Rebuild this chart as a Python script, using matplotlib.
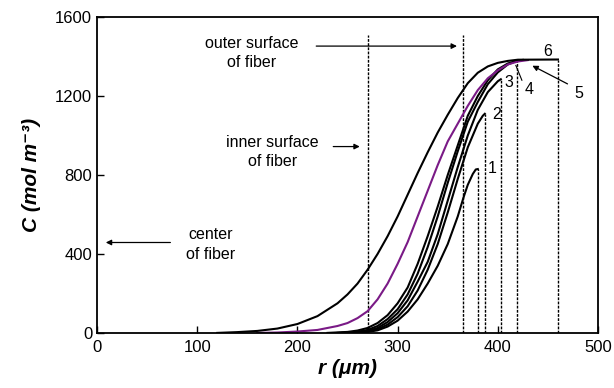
import matplotlib.pyplot as plt

plt.rcParams['font.family'] = ['Liberation Sans', 'DejaVu Sans']

# Profiles: r (um) and C (mol m-3)
r_a = [120, 140, 160, 180, 200, 220, 240, 250, 260, 270, 280, 290, 300, 310, 320,
       330, 340, 350, 360, 370, 380, 390, 400, 410, 420, 460]
c_a = [0, 4, 10, 22, 45, 85, 150, 195, 250, 320, 400, 490, 590, 700, 810,
       915, 1015, 1105, 1190, 1265, 1318, 1350, 1368, 1378, 1384, 1385]

r_purple = [160, 180, 200, 220, 240, 250, 260, 270, 280, 290, 300, 310, 320,
            330, 340, 350, 360, 370, 380, 390, 400, 410, 420, 430]
c_purple = [0, 2, 7, 15, 35, 50, 75, 110, 170, 250, 350, 460, 590,
            720, 850, 970, 1060, 1150, 1230, 1290, 1330, 1360, 1375, 1382]

r_c5 = [230, 250, 260, 270, 280, 290, 300, 310, 320, 330, 340, 350, 360, 370,
        380, 390, 400, 410, 420, 425]
c_c5 = [0, 5, 12, 25, 50, 90, 150, 230, 350, 490, 640, 800, 950, 1100,
        1200, 1280, 1335, 1365, 1380, 1383]

r_c4 = [240, 260, 270, 280, 290, 300, 310, 320, 330, 340, 350, 360, 370, 380,
        390, 400, 410, 419]
c_c4 = [0, 6, 15, 35, 70, 120, 195, 300, 435, 590, 760, 920, 1070, 1170,
        1260, 1320, 1360, 1378]

r_c3 = [245, 260, 270, 280, 290, 300, 310, 320, 330, 340, 350, 360, 370, 380,
        390, 400, 403]
c_c3 = [0, 4, 10, 25, 55, 100, 165, 260, 360, 500, 670, 840, 1000, 1130,
        1220, 1275, 1285]

r_c2 = [250, 270, 280, 290, 300, 310, 320, 330, 340, 350, 360, 370, 380, 385, 387]
c_c2 = [0, 7, 18, 42, 80, 135, 215, 320, 450, 610, 780, 940, 1060, 1100, 1110]

r_c1 = [255, 270, 280, 290, 300, 310, 320, 330, 340, 350, 360, 366, 370, 375, 378, 380]
c_c1 = [0, 5, 13, 32, 62, 108, 170, 250, 340, 450, 590, 690, 750, 805, 828, 830]

# dashed markers: surfaces and ends of profiles
dash_r = [270, 365, 380, 387, 403, 419, 460]
dash_top = [1510, 1510, 830, 1110, 1285, 1380, 1385]

fig = plt.figure(figsize=(6.14, 3.88), dpi=100)
ax = fig.add_axes([0.158, 0.142, 0.816, 0.814])

for x, top in zip(dash_r, dash_top):
    ax.plot([x, x], [0, top], color='black', lw=1.0, linestyle=(0, (2, 1)))

for r, c in [(r_c1, c_c1), (r_c2, c_c2), (r_c3, c_c3), (r_c4, c_c4), (r_c5, c_c5)]:
    ax.plot(r, c, color='black', lw=1.5)
ax.plot(r_purple, c_purple, color='#7a1a86', lw=1.5)
ax.plot(r_a, c_a, color='black', lw=1.5)

# text annotations
arrow = dict(arrowstyle='-|>', color='black', lw=0.9, mutation_scale=8)
ax.text(154, 1418, 'outer surface\nof fiber', ha='center', va='center',
        fontsize=11.5, linespacing=1.35)
ax.annotate('', xy=(362, 1453), xytext=(216, 1453), arrowprops=arrow)
ax.text(175, 916, 'inner surface\nof fiber', ha='center', va='center',
        fontsize=11.5, linespacing=1.35)
ax.annotate('', xy=(265, 944), xytext=(233, 944), arrowprops=arrow)
ax.text(113, 448, 'center\nof fiber', ha='center', va='center',
        fontsize=11.5, linespacing=1.35)
ax.annotate('', xy=(6, 458), xytext=(76, 458), arrowprops=arrow)

ax.text(390, 835, '1', fontsize=11.5, va='center')
ax.text(394, 1105, '2', fontsize=11.5, va='center')
ax.text(407, 1270, '3', fontsize=11.5, va='center')
ax.text(427, 1234, '4', fontsize=11.5, va='center')
ax.plot([424, 418], [1280, 1355], color='black', lw=0.8)
ax.text(476, 1215, '5', fontsize=11.5, va='center')
ax.annotate('', xy=(432, 1360), xytext=(472, 1255), arrowprops=arrow)
ax.text(445, 1425, '6', fontsize=11.5, va='center')

ax.set_xlim(0, 500)
ax.set_ylim(0, 1600)
ax.set_xticks([0, 100, 200, 300, 400, 500])
ax.set_yticks([0, 400, 800, 1200, 1600])
ax.tick_params(direction='in', length=5, width=1, labelsize=12)
ax.tick_params(axis='x', pad=5)
for s in ax.spines.values():
    s.set_linewidth(1.3)

ax.set_xlabel('r (μm)', fontsize=15, fontweight='bold', style='italic', labelpad=3)
ax.set_ylabel('C (mol m⁻³)', fontsize=15, fontweight='bold', style='italic', labelpad=10)

fig.savefig('out.png', dpi=100)
